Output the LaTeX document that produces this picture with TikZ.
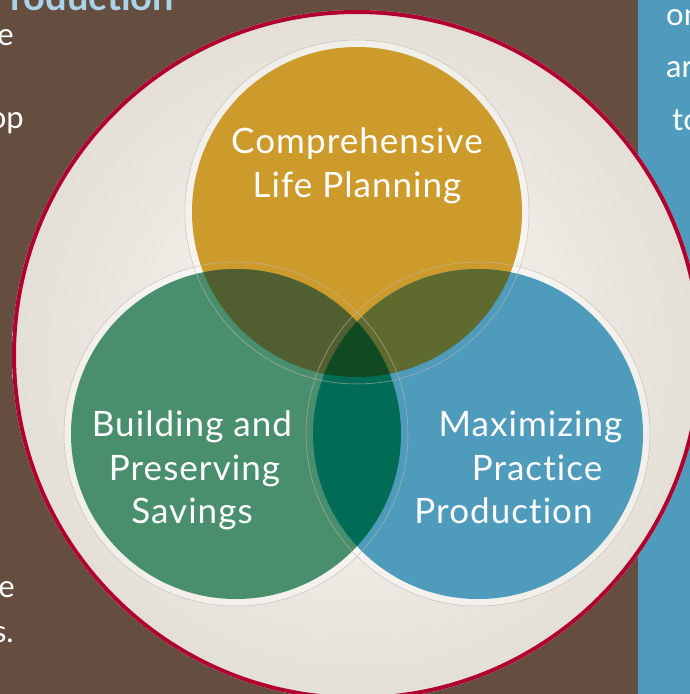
\documentclass[tikz,border=0pt]{standalone}
\usepackage{fontspec}
\setmainfont{Lato}[Ligatures=NoCommon]
\newfontfamily\venn{Lato}[Ligatures=NoCommon,LetterSpace=3]
\definecolor{bgbrown}{HTML}{654E40}
\definecolor{panelblue}{HTML}{4F9BBD}
\definecolor{crimson}{HTML}{B0002F}
\definecolor{ringin}{HTML}{FCFBF9}
\definecolor{ringout}{HTML}{E4DFD6}
\definecolor{cgold}{HTML}{CD9A2C}
\definecolor{cgreen}{HTML}{4A8F6D}
\definecolor{cblue}{HTML}{4F9BBC}
\definecolor{cgoldgreen}{HTML}{505E30}
\definecolor{cgoldblue}{HTML}{5E6A2E}
\definecolor{cgreenblue}{HTML}{006C56}
\definecolor{ccenter}{HTML}{114A22}
\definecolor{headblue}{HTML}{A8D3E8}
\definecolor{ringgray}{HTML}{BDB8AF}
\begin{document}
\begin{tikzpicture}[x=1pt,y=-1pt,
  vtext/.style={text=white,font=\venn\fontsize{35}{42}\selectfont,inner sep=0pt,anchor=base},
  btext/.style={text=white,font=\fontsize{31}{37}\selectfont,inner sep=0pt},
  halo/.style={draw=ringgray,line width=0.5pt,opacity=0.8}]
\useasboundingbox (0,0) rectangle (690,694);
\clip (0,0) rectangle (690,694);
% background
\fill[bgbrown] (0,0) rectangle (690,694);
\fill[panelblue] (638,0) rectangle (690,694);
% clipped side texts
\node[text=headblue,font=\fontsize{38}{44}\selectfont\bfseries,inner sep=0pt,anchor=base west] (head) at (10,10) {roduction};
\node[btext,anchor=base east] (l1) at (14,45) {e};
\node[btext,anchor=base east] (l2) at (24,128) {op};
\node[btext,anchor=base east] (l3) at (15,597) {e};
\node[btext,anchor=base east] (l4) at (14,642) {s.};
\node[btext,anchor=base west] (r1) at (666,25) {on};
\node[btext,anchor=base west] (r2) at (666,77) {ar};
\node[btext,anchor=base west] (r3) at (672,130) {to};
% big circle
\shade[inner color=ringin,outer color=ringout] (357,355) circle[radius=345pt];
\draw[crimson,line width=4pt] (357,355) circle[radius=343pt];
% halos
\fill[white,opacity=0.45] (357,212) circle[radius=172pt];
\fill[white,opacity=0.45] (236,434) circle[radius=172pt];
\fill[white,opacity=0.45] (478,434) circle[radius=172pt];
% venn circles
\fill[cgold] (357,212) circle[radius=165pt];
\fill[cgreen] (236,434) circle[radius=165pt];
\fill[cblue] (478,434) circle[radius=165pt];
\begin{scope}
  \clip (357,212) circle[radius=165pt];
  \fill[cgoldgreen] (236,434) circle[radius=165pt];
  \fill[cgoldblue] (478,434) circle[radius=165pt];
  \clip (236,434) circle[radius=165pt];
  \fill[ccenter] (478,434) circle[radius=165pt];
\end{scope}
\begin{scope}
  \clip (236,434) circle[radius=165pt];
  \clip (478,434) circle[radius=165pt];
  \fill[cgreenblue] (357,212) circle[radius=400pt];
  \fill[ccenter] (357,212) circle[radius=165pt];
\end{scope}
\draw[halo] (357,212) circle[radius=172pt];
\draw[halo] (236,434) circle[radius=172pt];
\draw[halo] (478,434) circle[radius=172pt];
% labels
\node[vtext] (t1) at (357,153) {Comprehensive};
\node[vtext] (t2) at (357,197) {Life Planning};
\node[vtext] (g1) at (192,436) {Building and};
\node[vtext] (g2) at (194.5,480) {Preserving};
\node[vtext] (g3) at (192,523) {Savings};
\node[vtext] (b1) at (530.5,436) {Maximizing};
\node[vtext] (b2) at (537,480) {Practice};
\node[vtext] (b3) at (503.5,523) {Production};
\end{tikzpicture}
\end{document}
